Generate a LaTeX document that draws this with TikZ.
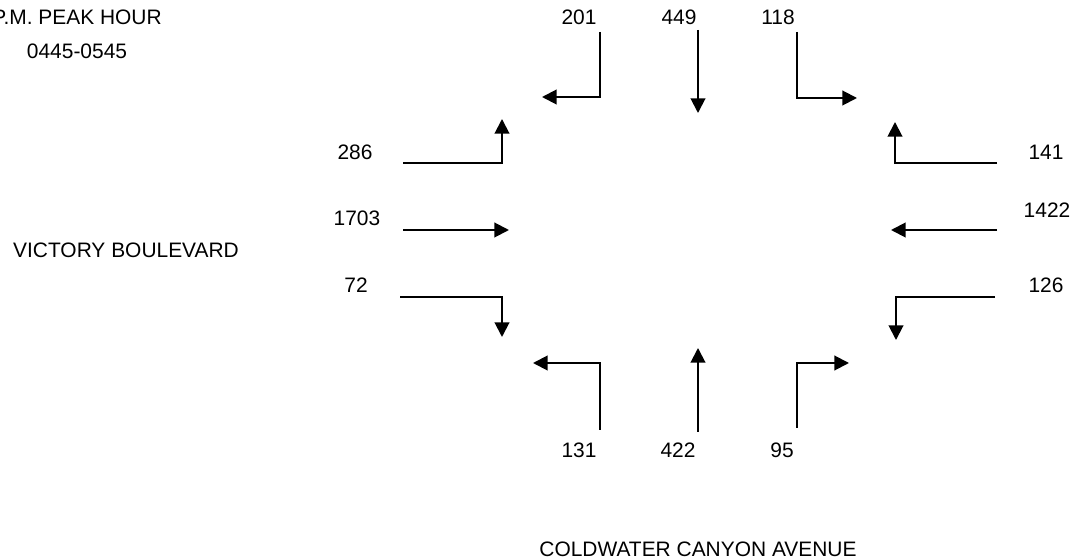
\documentclass[tikz,border=0pt]{standalone}
\usepackage{fontspec}
\setmainfont{Liberation Sans}
\usetikzlibrary{arrows.meta}
\tikzset{
  lbl/.style={inner sep=0pt, font=\fontsize{15.7}{19}\selectfont},
  mv/.style={line width=1.5pt, -{Triangle[length=11pt,width=11pt]}}
}
\begin{document}
\begin{tikzpicture}[x=0.75pt,y=-0.75pt]
\useasboundingbox (0,0) rectangle (1071,559);
% titles
\node[lbl] (t1) at (77,17) {P.M. PEAK HOUR};
\node[lbl] (t2) at (77,51) {0445-0545};
\node[lbl] (vb) at (126,250) {VICTORY BOULEVARD};
\node[lbl] (cc) at (698,549) {COLDWATER CANYON AVENUE};
% volume labels
\node[lbl] (n201) at (579,17) {201};
\node[lbl] (n449) at (679,17) {449};
\node[lbl] (n118) at (778,17) {118};
\node[lbl] (n286) at (355,152) {286};
\node[lbl] (n1703) at (357,218) {1703};
\node[lbl] (n72) at (356,285) {72};
\node[lbl] (n141) at (1046,152) {141};
\node[lbl] (n1422) at (1047,210) {1422};
\node[lbl] (n126) at (1046,285) {126};
\node[lbl] (n131) at (579,450) {131};
\node[lbl] (n422) at (678,450) {422};
\node[lbl] (n95) at (782,450) {95};
% coordinates
\coordinate (sbLs) at (600,32); \coordinate (sbLc) at (600,97); \coordinate (sbLe) at (542,97);
\coordinate (sbTs) at (698,30); \coordinate (sbTe) at (698,113);
\coordinate (sbRs) at (797,32); \coordinate (sbRc) at (797,98); \coordinate (sbRe) at (857,98);
\coordinate (ebLs) at (403,163); \coordinate (ebLc) at (502,163); \coordinate (ebLe) at (502,119);
\coordinate (ebTs) at (403,230); \coordinate (ebTe) at (509,230);
\coordinate (ebRs) at (400,297); \coordinate (ebRc) at (502,297); \coordinate (ebRe) at (502,337);
\coordinate (wbRs) at (997,163); \coordinate (wbRc) at (895,163); \coordinate (wbRe) at (895,122);
\coordinate (wbTs) at (997,230); \coordinate (wbTe) at (891,230);
\coordinate (wbLs) at (995,297); \coordinate (wbLc) at (896,297); \coordinate (wbLe) at (896,340);
\coordinate (nbLs) at (600,430); \coordinate (nbLc) at (600,363); \coordinate (nbLe) at (533,363);
\coordinate (nbTs) at (698,432); \coordinate (nbTe) at (698,348);
\coordinate (nbRs) at (797,428); \coordinate (nbRc) at (797,363); \coordinate (nbRe) at (849,363);
% movements
\draw[mv] (sbLs) -- (sbLc) -- (sbLe);
\draw[mv] (sbTs) -- (sbTe);
\draw[mv] (sbRs) -- (sbRc) -- (sbRe);
\draw[mv] (ebLs) -- (ebLc) -- (ebLe);
\draw[mv] (ebTs) -- (ebTe);
\draw[mv] (ebRs) -- (ebRc) -- (ebRe);
\draw[mv] (wbRs) -- (wbRc) -- (wbRe);
\draw[mv] (wbTs) -- (wbTe);
\draw[mv] (wbLs) -- (wbLc) -- (wbLe);
\draw[mv] (nbLs) -- (nbLc) -- (nbLe);
\draw[mv] (nbTs) -- (nbTe);
\draw[mv] (nbRs) -- (nbRc) -- (nbRe);
\end{tikzpicture}
\end{document}
